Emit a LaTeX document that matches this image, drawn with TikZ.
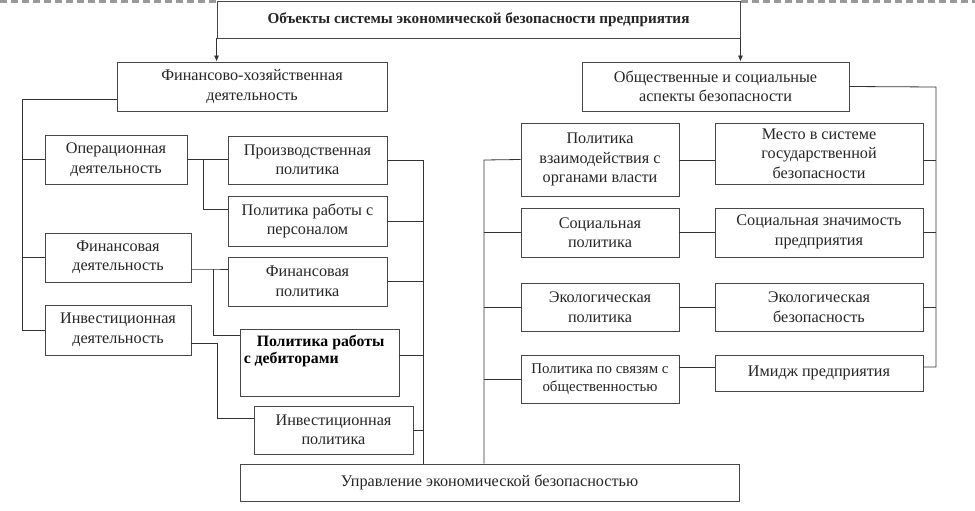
\documentclass[tikz,border=0pt]{standalone}
\usepackage{fontspec}
\setmainfont{Liberation Serif}
\usetikzlibrary{arrows.meta,calc}
\newcommand\bx[7]{\node[box,minimum width={(#4-#2)*1pt},minimum height={(#5-#3)*1pt},#6] (#1) at ({(#2+#4)/2},{-(#3+#5)/2}) {#7};}
\begin{document}
\begin{tikzpicture}[x=1pt,y=1pt,
  box/.style={draw=black!72,line width=0.9pt,inner sep=0pt,align=center,fill=white,
    font=\fontsize{16.2}{19.5}\selectfont,text=black!85},
  conn/.style={draw=black!80,line width=0.8pt},
  topbar/.style={draw=black!40,line width=3pt,dash pattern=on 7pt off 4pt}]
\useasboundingbox (0,0) rectangle (975,-511);
% top dashed bar
\draw[topbar] (0,-2) -- (217,-2);
\draw[topbar] (741,-2) -- (975,-2);
% boxes
\bx{top}{217}{1}{740}{38}{font=\bfseries\fontsize{15.2}{18}\selectfont}{Объекты системы экономической безопасности предприятия}
\bx{fin}{117}{62}{387}{111}{}{Финансово-хозяйственная\\деятельность}
\bx{soc}{582}{62}{849}{111}{}{Общественные и социальные\\аспекты безопасности}
\bx{op}{45}{135}{187}{184}{}{Операционная\\деятельность}
\bx{fd}{45}{233}{191}{282}{}{Финансовая\\деятельность}
\bx{id}{45}{305}{191}{355}{}{Инвестиционная\\деятельность}
\bx{pp}{228}{136}{387}{184}{}{Производственная\\политика}
\bx{pers}{228}{196}{387}{246}{}{Политика работы с\\персоналом}
\bx{fp}{228}{257}{387}{306}{}{Финансовая\\политика}
\bx{deb}{240}{329}{399}{396}{label={[anchor=north west,inner sep=0pt,xshift=4pt,yshift=-6pt,align=left,font=\bfseries\fontsize{15.8}{17.5}\selectfont]north west:\hspace*{13pt}Политика работы\\с дебиторами}}{}
\bx{ip}{254}{406}{413}{454}{}{Инвестиционная\\политика}
\bx{upr}{240}{464}{739}{501}{}{Управление экономической безопасностью}
\bx{pv}{521}{123}{679}{196}{}{Политика\\взаимодействия с\\органами власти}
\bx{mesto}{715}{123}{923}{184}{}{Место в системе\\государственной\\безопасности}
\bx{sp}{521}{208}{679}{257}{}{Социальная\\политика}
\bx{sz}{715}{208}{923}{257}{}{Социальная значимость\\предприятия\rule[-5pt]{0pt}{0pt}}
\bx{ep}{521}{283}{679}{331}{}{Экологическая\\политика}
\bx{eb}{715}{283}{923}{331}{}{Экологическая\\безопасность}
\bx{pr}{521}{355}{679}{403}{font=\fontsize{14.9}{18.5}\selectfont}{Политика по связям с\\общественностью}
\bx{im}{715}{355}{923}{391}{}{Имидж предприятия}
% coordinates
\coordinate (lb) at (22,-99);
\coordinate (j1) at (203,-160);
\coordinate (j2) at (213,-269);
\coordinate (j3) at (217,-343);
\coordinate (rb) at (423,-160);
\coordinate (lb2) at (484,-160);
\coordinate (rb2) at (936,-87);
% arrows from top
\draw[conn,-{Latex[length=6pt,width=5pt]}] (top.south west) -- (top.south west |- fin.north);
\draw[conn,-{Latex[length=6pt,width=5pt]}] (top.south east) -- (top.south east |- soc.north);
% left group
\draw[conn] ([yshift=-12.5pt]fin.west) -- (lb) |- (id.west);
\draw[conn] (lb |- op.west) -- (op.west);
\draw[conn] (lb |- fd.west) -- (fd.west);
\draw[conn] (op.east) -- (op.east -| pp.west);
\draw[conn] (j1) |- ([yshift=12pt]pers.west);
\draw[conn] ([yshift=-11.5pt]fd.east) -- (j2) -- (j2 -| fp.west);
\draw[conn] (j2) |- ([yshift=27.5pt]deb.west);
\draw[conn] ([yshift=-13pt]id.east) -- (j3) |- ([yshift=12pt]ip.west);
% middle bus
\draw[conn] (pp.east) -- (rb) -- (rb |- upr.north);
\draw[conn] (pers.east) -- (pers.east -| rb);
\draw[conn] (fp.east) -- (fp.east -| rb);
\draw[conn] ([yshift=7.5pt]deb.east) -- ([yshift=7.5pt]deb.east -| rb);
\draw[conn] (ip.east) -- (ip.east -| rb);
% right group left bus
\draw[conn] (pv.west) -- (lb2) -- (lb2 |- upr.north);
\draw[conn] (sp.west) -- (sp.west -| lb2);
\draw[conn] (ep.west) -- (ep.west -| lb2);
\draw[conn] (pr.west) -- (pr.west -| lb2);
% pairs
\draw[conn] ([yshift=-0.5pt]pv.east) -- ([yshift=-0.5pt]pv.east -| mesto.west);
\draw[conn] (sp.east) -- (sz.west);
\draw[conn] (ep.east) -- (eb.west);
\draw[conn] ([yshift=12pt]pr.east) -- ([yshift=12pt]pr.east -| im.west);
% right bus
\draw[conn] (soc.east) -- (rb2) |- ([yshift=6pt]im.east);
\draw[conn] ([yshift=-6.5pt]mesto.east) -- ([yshift=-6.5pt]mesto.east -| rb2);
\draw[conn] (sz.east) -- (sz.east -| rb2);
\draw[conn] (eb.east) -- (eb.east -| rb2);
\end{tikzpicture}
\end{document}
